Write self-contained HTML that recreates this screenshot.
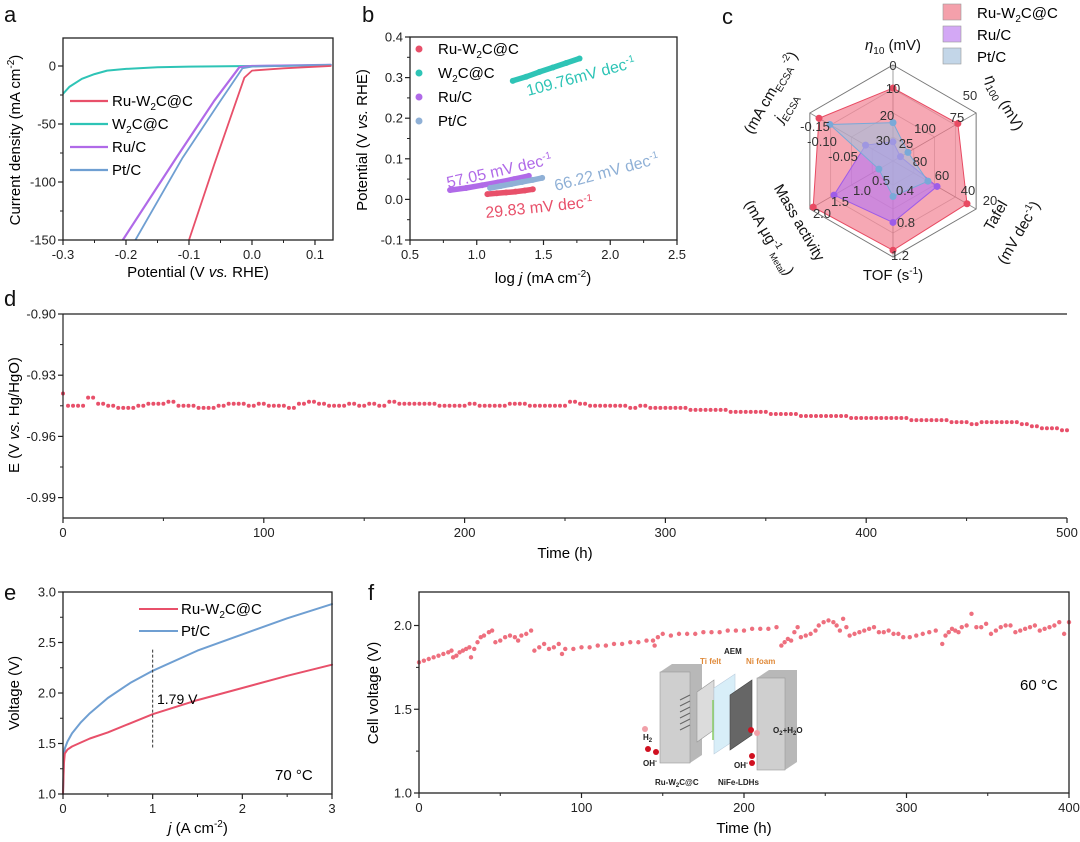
<!DOCTYPE html>
<html><head><meta charset="utf-8"><style>
html,body{margin:0;padding:0;background:#fff;}
svg{display:block;font-family:"Liberation Sans",Arial,sans-serif;}
</style></head><body>
<svg id="fig" width="1080" height="842" viewBox="0 0 1080 842" xmlns="http://www.w3.org/2000/svg">
<g id="root"></g>
</svg>
<script>
// ---------- DATA ----------
// panel a: LSV curves (potential V, current mA cm-2)
const aRuW2C_x=[0.125,0.05,0.0,-0.012,-0.03,-0.06,-0.1];
const aRuW2C_y=[0,-2,-4,-10,-38,-85,-150];
const aW2C_x=[0.125,0.0,-0.1,-0.15,-0.2,-0.23,-0.25,-0.27,-0.29,-0.3];
const aW2C_y=[0.5,0,-0.5,-1,-2.5,-4,-7,-11,-18,-24];
const aRu_x=[0.125,0.0,-0.02,-0.06,-0.12,-0.205];
const aRu_y=[1,0,-1,-30,-79,-150];
const aPt_x=[0.125,0.0,-0.015,-0.05,-0.11,-0.185];
const aPt_y=[1,-0.5,-2,-30,-79,-150];
const aXTicks=[-0.3,-0.2,-0.1,0.0,0.1];
const aYTicks=[0,-50,-100,-150];
// panel b: Tafel (log j, V)
const bRuW2C_x=[1.08,1.15,1.22,1.29,1.36,1.42];
const bRuW2C_y=[0.013,0.015,0.017,0.019,0.022,0.025];
const bW2C_x=[1.27,1.37,1.47,1.57,1.67,1.77];
const bW2C_y=[0.292,0.302,0.314,0.325,0.336,0.347];
const bRu_x=[0.8,0.92,1.04,1.16,1.28,1.39];
const bRu_y=[0.023,0.028,0.035,0.042,0.05,0.058];
const bPt_x=[1.1,1.18,1.26,1.34,1.42,1.49];
const bPt_y=[0.028,0.033,0.038,0.043,0.048,0.053];
const bXTicks=[0.5,1.0,1.5,2.0,2.5];
const bYTicks=[0.4,0.3,0.2,0.1,0.0,-0.1];
// panel c: radar (normalized 0..1 along 6 axes: eta10, eta100, tafel, TOF, mass act, jECSA)
const cRuW2C=[0.76,0.78,0.89,0.93,0.96,0.89];
const cRu=[0.2,0.09,0.53,0.64,0.71,0.33];
const cPt=[0.4,0.18,0.42,0.37,0.17,0.76];
// panel d: stability
const dTime=[];for(let i=0;i<=100;i++)dTime.push(i*5);
const dVal=[-0.939,-0.945,-0.945,-0.941,-0.944,-0.945,-0.946,-0.946,-0.945,-0.944,-0.944,-0.943,-0.945,-0.945,-0.946,-0.946,-0.945,-0.944,-0.944,-0.945,-0.944,-0.945,-0.945,-0.946,-0.944,-0.943,-0.944,-0.945,-0.945,-0.944,-0.945,-0.944,-0.945,-0.943,-0.944,-0.944,-0.944,-0.944,-0.945,-0.945,-0.945,-0.944,-0.945,-0.945,-0.945,-0.944,-0.944,-0.945,-0.945,-0.945,-0.945,-0.943,-0.944,-0.945,-0.945,-0.945,-0.945,-0.946,-0.945,-0.946,-0.946,-0.946,-0.946,-0.947,-0.947,-0.947,-0.947,-0.948,-0.948,-0.948,-0.948,-0.949,-0.949,-0.949,-0.950,-0.950,-0.950,-0.950,-0.950,-0.951,-0.951,-0.951,-0.951,-0.951,-0.951,-0.952,-0.952,-0.952,-0.952,-0.953,-0.953,-0.954,-0.953,-0.953,-0.953,-0.953,-0.954,-0.955,-0.956,-0.956,-0.957];
const dXTicks=[0,100,200,300,400,500];
const dYTicks=[-0.90,-0.93,-0.96,-0.99];
// panel e: polarization
const eRuW2C_x=[0,0.01,0.02,0.05,0.1,0.2,0.3,0.5,0.75,1,1.5,2,2.5,3];
const eRuW2C_y=[1.0,1.3,1.4,1.44,1.47,1.51,1.55,1.61,1.7,1.79,1.93,2.05,2.17,2.28];
const ePt_x=[0,0.01,0.02,0.05,0.1,0.2,0.3,0.5,0.75,1,1.5,2,2.5,3];
const ePt_y=[1.0,1.35,1.45,1.52,1.6,1.71,1.8,1.95,2.1,2.22,2.42,2.58,2.74,2.88];
const eXTicks=[0,1,2,3];
const eYTicks=[1.0,1.5,2.0,2.5,3.0];
// panel f: AEM cell stability
const fTime=[0,3,6,9,12,15,18,20,21,23,25,27,29,31,32,34,36,38,40,43,45,47,50,53,56,59,61,63,66,69,71,74,77,80,83,86,88,90,95,100,105,110,115,120,125,130,135,140,144,145,147,150,155,160,165,170,175,180,185,190,195,200,205,210,215,220,223,225,227,229,231,233,235,238,241,244,246,249,252,255,257,259,261,263,265,268,271,274,277,280,283,286,289,292,295,298,302,306,310,314,318,322,324,326,328,330,332,334,337,340,343,346,349,352,355,358,361,364,367,370,373,376,379,382,385,388,391,394,397,400];
const fVal=[1.78,1.79,1.80,1.81,1.82,1.83,1.84,1.85,1.81,1.82,1.84,1.85,1.86,1.87,1.81,1.86,1.90,1.93,1.94,1.96,1.97,1.90,1.91,1.93,1.94,1.93,1.91,1.94,1.95,1.97,1.85,1.87,1.89,1.86,1.87,1.89,1.83,1.86,1.86,1.87,1.87,1.88,1.88,1.89,1.89,1.90,1.90,1.91,1.91,1.88,1.93,1.95,1.94,1.95,1.95,1.95,1.96,1.96,1.96,1.97,1.97,1.97,1.98,1.98,1.98,1.99,1.88,1.90,1.92,1.91,1.96,1.99,1.93,1.94,1.95,1.97,2.00,2.02,2.03,2.02,2.00,1.97,2.04,1.99,1.94,1.95,1.96,1.97,1.98,1.99,1.96,1.96,1.97,1.95,1.95,1.93,1.93,1.94,1.95,1.96,1.97,1.89,1.94,1.96,1.98,1.97,1.96,1.99,2.00,2.07,1.99,1.99,2.01,1.95,1.97,1.99,2.00,2.00,1.96,1.97,1.98,1.99,2.00,1.97,1.98,1.99,2.00,2.02,1.95,2.02];
const fXTicks=[0,100,200,300,400];
const fYTicks=[1.0,1.5,2.0];

// ---------- HELPERS ----------
const NS='http://www.w3.org/2000/svg';
const root=document.getElementById('root');
function el(tag,attrs,parent,text){const e=document.createElementNS(NS,tag);for(const k in attrs)e.setAttribute(k,attrs[k]);if(text!==undefined)e.textContent=text;(parent||root).appendChild(e);return e;}
function scale(d0,d1,r0,r1){return v=>r0+(v-d0)/(d1-d0)*(r1-r0);}
const RED='#e8506a',TEAL='#2ec4b6',PURP='#b06ae8',BLUE='#6f9fd2',PTB='#8fb0d6';
function frame(g,x0,y0,x1,y1){const r=el('rect',{x:x0,y:y0,width:x1-x0,height:y1-y0,fill:'none',stroke:'#222','stroke-width':1.3},g);}
function xTicks(g,ticks,sx,y,fmt,minor){ticks.forEach((t,i)=>{el('line',{x1:sx(t),x2:sx(t),y1:y,y2:y+5,stroke:'#222','stroke-width':1.2},g);const tx=el('text',{x:sx(t),y:y+19,'font-size':13,'text-anchor':'middle',fill:'#222'},g,fmt(t));if(minor&&i<ticks.length-1){const m=(t+ticks[i+1])/2;el('line',{x1:sx(m),x2:sx(m),y1:y,y2:y+3,stroke:'#222','stroke-width':1},g);}});}
function yTicks(g,ticks,sy,x,fmt,minor){ticks.forEach((t,i)=>{el('line',{x1:x,x2:x-5,y1:sy(t),y2:sy(t),stroke:'#222','stroke-width':1.2},g);const tx=el('text',{x:x-7,y:sy(t)+4.5,'font-size':13,'text-anchor':'end',fill:'#222'},g,fmt(t));if(minor&&i<ticks.length-1){const m=(t+ticks[i+1])/2;el('line',{x1:x,x2:x-3,y1:sy(m),y2:sy(m),stroke:'#222','stroke-width':1},g);}});}
function poly(g,xs,ys,sx,sy,color,w,name){const p=xs.map((x,i)=>sx(x).toFixed(1)+','+sy(ys[i]).toFixed(1)).join(' ');const l=el('polyline',{points:p,fill:'none',stroke:color,'stroke-width':w,'stroke-linejoin':'round','stroke-linecap':'round'},g);return l;}
function letter(t,x,y){const e=el('text',{x:x,y:y,'font-size':22,fill:'#111'},root,t);}

// ---------- PANEL A ----------
(function(){
const g=el('g',{});
const sx=scale(-0.3,0.1286,63,333),sy=scale(0,-150,66,240);
const clip=el('clipPath',{id:'ca'},g);el('rect',{x:63,y:38,width:270,height:202},clip);
const cg=el('g',{'clip-path':'url(#ca)'},g);
poly(cg,aW2C_x,aW2C_y,sx,sy,TEAL,2,'w2c-curve');
poly(cg,aRu_x,aRu_y,sx,sy,PURP,2.2,'ru-c-curve');
poly(cg,aPt_x,aPt_y,sx,sy,BLUE,1.8,'pt-c-curve');
poly(cg,aRuW2C_x,aRuW2C_y,sx,sy,RED,1.8,'ru-w2c-curve');
frame(g,63,38,333,240);
xTicks(g,aXTicks,sx,240,t=>t.toFixed(1),true);
yTicks(g,aYTicks,sy,63,t=>String(t).replace('-','-'),true);
const xt=el('text',{x:198,y:277,'font-size':15,'text-anchor':'middle'},g);xt.innerHTML='Potential (V <tspan font-style="italic">vs.</tspan> RHE)';
const yt=el('text',{transform:'translate(20,140) rotate(-90)','font-size':15,'text-anchor':'middle'},g);yt.innerHTML='Current density (mA cm<tspan dy="-6" font-size="10">-2</tspan><tspan dy="6">)</tspan>';
const leg=[['Ru-W<tspan dy="4" font-size="10">2</tspan><tspan dy="-4">C@C</tspan>',RED],['W<tspan dy="4" font-size="10">2</tspan><tspan dy="-4">C@C</tspan>',TEAL],['Ru/C',PURP],['Pt/C',BLUE]];
leg.forEach((L,i)=>{const y=101+i*23;el('line',{x1:70,x2:108,y1:y,y2:y,stroke:L[1],'stroke-width':2.2},g);const t=el('text',{x:112,y:y+5,'font-size':15},g);t.innerHTML=L[0];});
letter('a',4,22);
})();

// ---------- PANEL B ----------
(function(){
const g=el('g',{});
const sx=scale(0.5,2.5,410,677),sy=scale(0.4,-0.1,37,240);
const series=[[bW2C_x,bW2C_y,TEAL,'w2c-tafel'],[bRu_x,bRu_y,PURP,'ru-c-tafel'],[bPt_x,bPt_y,PTB,'pt-c-tafel'],[bRuW2C_x,bRuW2C_y,RED,'ru-w2c-tafel']];
series.forEach(s=>{poly(g,s[0],s[1],sx,sy,s[2],5.5,s[3]);s[0].forEach((x,i)=>{const c=el('circle',{cx:sx(x),cy:sy(s[1][i]),r:3,fill:s[2]},g);});});
frame(g,410,37,677,240);
xTicks(g,bXTicks,sx,240,t=>t.toFixed(1),true);
yTicks(g,bYTicks,sy,410,t=>t.toFixed(1),true);
const xt=el('text',{x:543,y:283,'font-size':15,'text-anchor':'middle'},g);xt.innerHTML='log <tspan font-style="italic">j</tspan> (mA cm<tspan dy="-6" font-size="10">-2</tspan><tspan dy="6">)</tspan>';
const yt=el('text',{transform:'translate(367,140) rotate(-90)','font-size':15,'text-anchor':'middle'},g);yt.innerHTML='Potential (V <tspan font-style="italic">vs.</tspan> RHE)';
const leg=[['Ru-W<tspan dy="4" font-size="10">2</tspan><tspan dy="-4">C@C</tspan>',RED],['W<tspan dy="4" font-size="10">2</tspan><tspan dy="-4">C@C</tspan>',TEAL],['Ru/C',PURP],['Pt/C',PTB]];
leg.forEach((L,i)=>{const y=49+i*24;el('circle',{cx:419,cy:y,r:3.5,fill:L[1]},g);const t=el('text',{x:438,y:y+5,'font-size':15},g);t.innerHTML=L[0];});
const ann=[['109.76mV dec',TEAL,528,96,-15],['57.05 mV dec',PURP,448,188,-13],['66.22 mV dec',PTB,556,191,-15],['29.83 mV dec',RED,486,218,-6]];
ann.forEach(a=>{const t=el('text',{transform:`translate(${a[2]},${a[3]}) rotate(${a[4]})`,'font-size':16,fill:a[1]},g);t.innerHTML=a[0]+'<tspan dy="-6" font-size="10">-1</tspan>';});
letter('b',362,22);
})();

// ---------- PANEL C ----------
(function(){
const g=el('g',{});
const cx=893,cy=161,R=96;
const ang=[0,1,2,3,4,5].map(i=>-Math.PI/2+i*Math.PI/3);
const pt=(f,i)=>[cx+R*f*Math.cos(ang[i]),cy+R*f*Math.sin(ang[i])];
[0.25,0.5,0.75,1].forEach(f=>{el('polygon',{points:ang.map((a,i)=>pt(f,i).join(',')).join(' '),fill:'none',stroke:f===1?'#777':'#bbb','stroke-width':f===1?1:0.8},g);});
ang.forEach((a,i)=>{const p=pt(1,i);el('line',{x1:cx,y1:cy,x2:p[0],y2:p[1],stroke:'#888','stroke-width':0.8},g);});
const ser=[[cRuW2C,'rgba(240,110,130,0.6)','#e84a62','radar-ru-w2c'],[cRu,'rgba(185,120,240,0.65)','#9e5ce8','radar-ru-c'],[cPt,'rgba(160,190,220,0.6)','#79a9d8','radar-pt-c']];
ser.forEach(s=>{const p=el('polygon',{points:s[0].map((f,i)=>pt(f,i).join(',')).join(' '),fill:s[1],stroke:s[2],'stroke-width':1},g);s[0].forEach((f,i)=>{const q=pt(f,i);el('circle',{cx:q[0],cy:q[1],r:3.5,fill:s[2]},g);});});
const ticks=[['0',893,70],['10',893,93],['20',887,120],['30',883,145],['50',970,100],['75',957,122],['100',925,133],['25',906,148],['20',990,205],['40',968,195],['60',942,180],['80',920,166],['1.2',900,260],['0.8',906,227],['0.4',905,195],['0.5',881,185],['1.0',862,195],['1.5',840,206],['2.0',822,218],['-0.15',815,131],['-0.10',822,146],['-0.05',843,161]];
ticks.forEach(t=>{const e=el('text',{x:t[1],y:t[2],'font-size':13,'text-anchor':'middle',fill:'#333'},g,t[0]);});
const labs=[['<tspan font-style="italic">η</tspan><tspan dy="4" font-size="10">10</tspan><tspan dy="-4"> (mV)</tspan>',893,50,0],['<tspan font-style="italic">η</tspan><tspan dy="4" font-size="10">100</tspan><tspan dy="-4"> (mV)</tspan>',1000,105,60],['Tafel',1000,218,-60],['(mV dec<tspan dy="-6" font-size="10">-1</tspan><tspan dy="6">)</tspan>',1023,235,-60],['TOF (s<tspan dy="-6" font-size="10">-1</tspan><tspan dy="6">)</tspan>',893,280,0],['Mass activity',795,225,60],['(mA μg<tspan dy="-6" font-size="10">-1</tspan><tspan dy="10" font-size="9">Metal</tspan><tspan dy="-4">)</tspan>',765,240,60],['<tspan font-style="italic">j</tspan><tspan dy="4" font-size="10">ECSA</tspan>',790,110,-60],['(mA cm<tspan dy="4" font-size="10">ECSA</tspan><tspan dy="-10" font-size="10">-2</tspan><tspan dy="6">)</tspan>',775,95,-60]];
labs.forEach(l=>{const e=el('text',{transform:`translate(${l[1]},${l[2]}) rotate(${l[3]})`,'font-size':15,'text-anchor':'middle',fill:'#111'},g);e.innerHTML=l[0];});
const leg=[['Ru-W<tspan dy="4" font-size="10">2</tspan><tspan dy="-4">C@C</tspan>','#f4a0ab'],['Ru/C','#d3a8f5'],['Pt/C','#c3d6e8']];
leg.forEach((L,i)=>{const y=4+i*22;el('rect',{x:943,y:y,width:18,height:16,fill:L[1],stroke:'#999','stroke-width':0.6},g);const t=el('text',{x:977,y:y+14,'font-size':15},g);t.innerHTML=L[0];});
letter('c',722,24);
})();

// ---------- PANEL D ----------
(function(){
const g=el('g',{});
const sx=scale(0,500,63,1067),sy=scale(-0.90,-1.0,314,518);
dTime.forEach((t,i)=>{const c=el('circle',{cx:sx(t),cy:sy(dVal[i]),r:2,fill:RED},g);
 if(i<dTime.length-1){const m=el('circle',{cx:sx(t+2.5),cy:sy(dVal[i+1]),r:2,fill:RED},g);}});
el('line',{x1:63,y1:314,x2:1067,y2:314,stroke:'#222','stroke-width':1.2},g);
el('line',{x1:63,y1:314,x2:63,y2:518,stroke:'#222','stroke-width':1.2},g);
el('line',{x1:63,y1:518,x2:1067,y2:518,stroke:'#222','stroke-width':1.2},g);
xTicks(g,dXTicks,sx,518,t=>String(t),true);
yTicks(g,dYTicks,sy,63,t=>t.toFixed(2),true);
const xt=el('text',{x:565,y:558,'font-size':15,'text-anchor':'middle'},g,'Time (h)');
const yt=el('text',{transform:'translate(19,415) rotate(-90)','font-size':15,'text-anchor':'middle'},g);yt.innerHTML='E (V <tspan font-style="italic">vs.</tspan> Hg/HgO)';
letter('d',4,306);
})();

// ---------- PANEL E ----------
(function(){
const g=el('g',{});
const sx=scale(0,3,63,332),sy=scale(1.0,3.0,794,592);
poly(g,ePt_x,ePt_y,sx,sy,BLUE,2,'pt-c-polarization');
poly(g,eRuW2C_x,eRuW2C_y,sx,sy,RED,2,'ru-w2c-polarization');
el('line',{x1:sx(1),x2:sx(1),y1:sy(2.43),y2:sy(1.46),stroke:'#333','stroke-width':1,'stroke-dasharray':'3,2'},g);
frame(g,63,592,332,794);
xTicks(g,eXTicks,sx,794,t=>String(t),true);
yTicks(g,eYTicks,sy,63,t=>t.toFixed(1),true);
const xt=el('text',{x:198,y:833,'font-size':15,'text-anchor':'middle'},g);xt.innerHTML='<tspan font-style="italic">j</tspan> (A cm<tspan dy="-6" font-size="10">-2</tspan><tspan dy="6">)</tspan>';
const yt=el('text',{transform:'translate(19,693) rotate(-90)','font-size':15,'text-anchor':'middle'},g,'Voltage (V)');
const leg=[['Ru-W<tspan dy="4" font-size="10">2</tspan><tspan dy="-4">C@C</tspan>',RED],['Pt/C',BLUE]];
leg.forEach((L,i)=>{const y=609+i*22;el('line',{x1:139,x2:178,y1:y,y2:y,stroke:L[1],'stroke-width':2},g);const t=el('text',{x:181,y:y+5,'font-size':15},g);t.innerHTML=L[0];});
const a=el('text',{x:157,y:704,'font-size':14},g,'1.79 V');
const b=el('text',{x:275,y:780,'font-size':15},g,'70 °C');
letter('e',4,600);
})();

// ---------- PANEL F ----------
(function(){
const g=el('g',{});
const sx=scale(0,400,419,1069),sy=scale(1.0,2.2,793,592);
fTime.forEach((t,i)=>{const c=el('circle',{cx:sx(t),cy:sy(fVal[i]),r:2.2,fill:'#ee6f7e'},g);});
frame(g,419,592,1069,793);
xTicks(g,fXTicks,sx,793,t=>String(t),true);
yTicks(g,fYTicks,sy,419,t=>t.toFixed(1),true);
const xt=el('text',{x:744,y:833,'font-size':15,'text-anchor':'middle'},g,'Time (h)');
const yt=el('text',{transform:'translate(378,693) rotate(-90)','font-size':15,'text-anchor':'middle'},g,'Cell voltage (V)');
const tl=el('text',{x:1020,y:690,'font-size':15},g,'60 °C');
// inset schematic
const ig=el('g',{},g);
el('polygon',{points:'660,672 672,664 702,664 702,755 690,763 660,763',fill:'#b8b8b8'},ig);
el('rect',{x:660,y:672,width:30,height:91,fill:'#cfcfcf',stroke:'#999','stroke-width':0.6},ig);
for(let k=0;k<6;k++)el('line',{x1:680,y1:700+k*6,x2:690,y2:695+k*6,stroke:'#666','stroke-width':1},ig);
el('polygon',{points:'697,692 714,680 714,730 697,742',fill:'#dcdcdc',stroke:'#999','stroke-width':0.6},ig);
el('polygon',{points:'714,688 735,674 735,740 714,754',fill:'#d8eef8',stroke:'#bcd','stroke-width':0.6},ig);
el('line',{x1:713,y1:700,x2:713,y2:740,stroke:'#8c6','stroke-width':1.5},ig);
el('polygon',{points:'730,695 752,680 752,735 730,750',fill:'#666',stroke:'#444','stroke-width':0.6},ig);
el('polygon',{points:'757,678 769,670 797,670 797,762 785,770 757,770',fill:'#b8b8b8'},ig);
el('rect',{x:757,y:678,width:28,height:92,fill:'#cfcfcf',stroke:'#999','stroke-width':0.6},ig);
[[645,729,'#f1a0a8'],[648,749,'#d01020'],[656,752,'#d01020'],[751,730,'#d01020'],[757,733,'#f1a0a8'],[752,756,'#d01020'],[752,763,'#d01020']].forEach(c=>el('circle',{cx:c[0],cy:c[1],r:3,fill:c[2]},ig));
const il=[['Ti felt',700,664,'#e08a3a'],['AEM',724,654,'#222'],['Ni foam',746,664,'#e08a3a'],['H<tspan dy="2" font-size="6">2</tspan>',643,740,'#222'],['OH<tspan dy="-3" font-size="6">-</tspan>',643,766,'#222'],['O<tspan dy="2" font-size="6">2</tspan><tspan dy="-2">+H</tspan><tspan dy="2" font-size="6">2</tspan><tspan dy="-2">O</tspan>',773,733,'#222'],['OH<tspan dy="-3" font-size="6">-</tspan>',734,768,'#222'],['Ru-W<tspan dy="2" font-size="6">2</tspan><tspan dy="-2">C@C</tspan>',655,785,'#222'],['NiFe-LDHs',718,785,'#222']];
il.forEach(t=>{const e=el('text',{x:t[1],y:t[2],'font-size':8,'font-weight':'bold',fill:t[3]},ig);e.innerHTML=t[0];});
letter('f',368,600);
})();
</script>
</body></html>
